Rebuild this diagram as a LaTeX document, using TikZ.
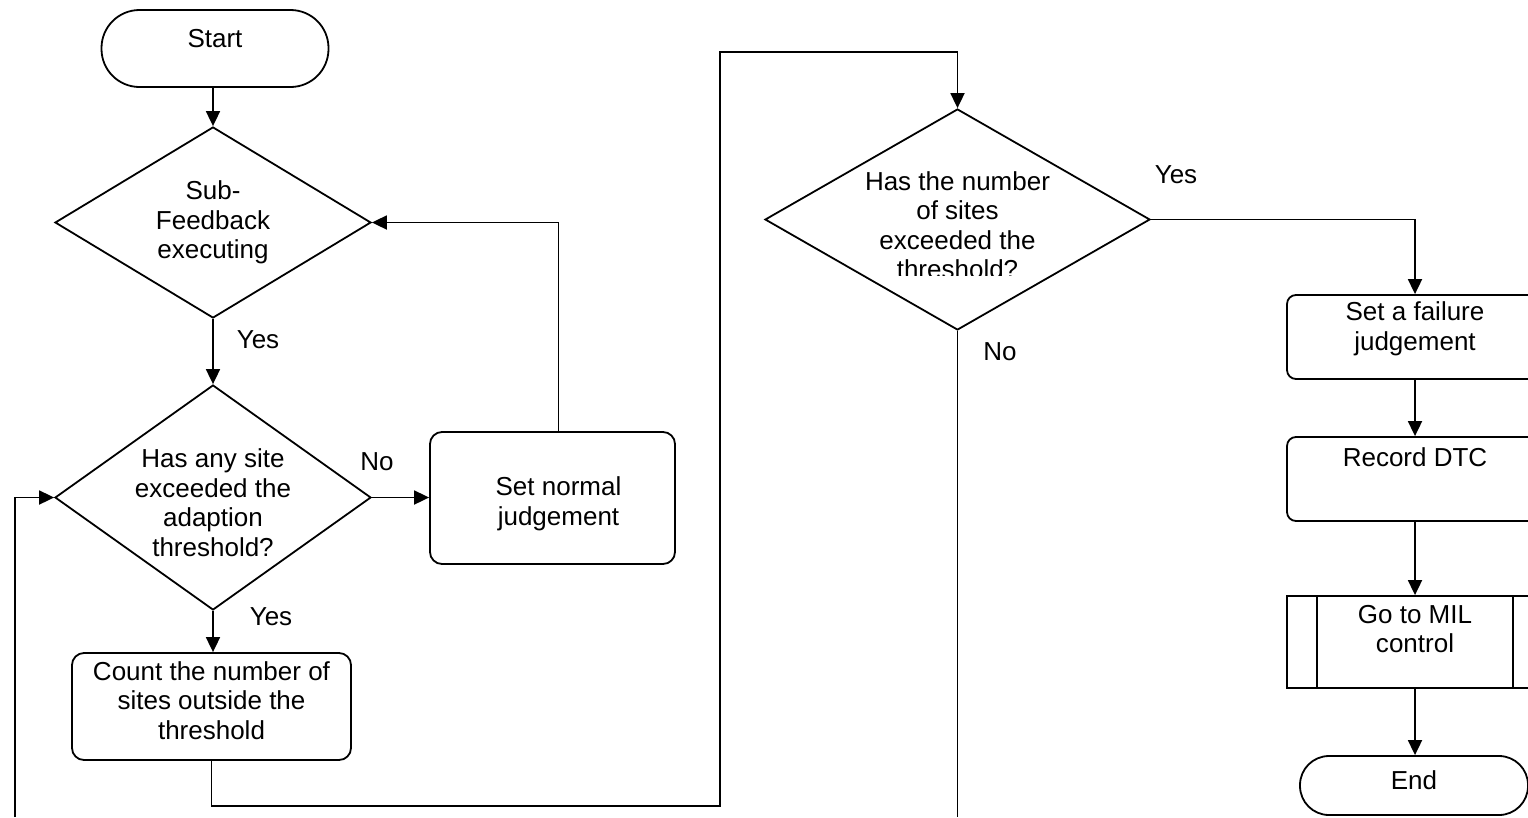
\documentclass[tikz,border=0pt]{standalone}
\usepackage{fontspec}
\setmainfont{Liberation Sans}
\usetikzlibrary{shapes.geometric,arrows.meta}

\tikzset{
  flow/.style={line width=1.8pt},
  arr/.style={flow, -{Triangle[length=15pt,width=14pt]}},
  txt/.style={align=center, font=\fontsize{26}{29.5}\selectfont, inner sep=0pt},
  terminal/.style={draw, flow, rectangle, rounded corners=#1, inner sep=0pt},
  procbox/.style={draw, flow, rectangle, rounded corners=12pt, inner sep=0pt},
  subproc/.style={draw, flow, rectangle, inner sep=0pt},
  decision/.style={draw, flow, diamond, inner sep=0pt},
}

\begin{document}
\begin{tikzpicture}[x=1pt,y=-1pt]
\useasboundingbox (0,0) rectangle (1528,817);

\node[terminal=38pt, minimum width=227pt, minimum height=77pt, label={[txt,yshift=10pt]center:Start}] (start) at (215,48.5) {};
\node[decision, minimum width=316pt, minimum height=191pt, label={[txt]center:{Sub-\\Feedback\\executing}}] (sub) at (213,222.5) {};
\node[decision, minimum width=316pt, minimum height=225pt, label={[txt,yshift=-5pt]center:{Has any site\\exceeded the\\adaption\\threshold?}}] (adapt) at (213,497.5) {};
\node[procbox, minimum width=245pt, minimum height=132pt, label={[txt,xshift=6pt,yshift=-6pt]center:{Set normal\\judgement}}] (normal) at (552.5,498) {};
\node[procbox, minimum width=279pt, minimum height=107pt, label={[txt,yshift=6pt]center:{Count the number of\\sites outside the\\threshold}}] (count) at (211.5,706.5) {};
\node[decision, minimum width=385pt, minimum height=221pt] (num) at (957.5,219.5) {};
\begin{scope}
\clip (765,100) rectangle (1150,275);
\node[txt] (numtext) at (957.5,225) {Has the number\\of sites\\exceeded the\\threshold?};
\end{scope}
\node[procbox, rounded corners=9pt, minimum width=256pt, minimum height=84pt, label={[txt,yshift=8pt]center:{Set a failure\\judgement}}] (fail) at (1415,337) {};
\node[procbox, rounded corners=9pt, minimum width=256pt, minimum height=84pt, label={[txt,yshift=22pt]center:Record DTC}] (record) at (1415,479) {};
\node[subproc, minimum width=256pt, minimum height=92pt, label={[txt,yshift=13pt]center:{Go to MIL\\control}}] (go) at (1415,642) {};
\node[terminal=29pt, minimum width=228pt, minimum height=59pt, label={[txt,yshift=5pt]center:End}] (end) at (1414,785.5) {};

\draw[flow] ([xshift=31pt]go.north west) -- ([xshift=31pt]go.south west);
\draw[flow] ([xshift=-31pt]go.north east) -- ([xshift=-31pt]go.south east);

\node[txt] (yes1) at (258,340) {Yes};
\node[txt] (no1) at (377,462) {No};
\node[txt] (yes2) at (271,617) {Yes};
\node[txt] (yes3) at (1176,175) {Yes};
\node[txt] (no2) at (1000,352) {No};

\coordinate (c1) at (720,806);
\coordinate (c2) at (720,52);
\coordinate (loopin) at (15,817);
\coordinate (numout) at (957.5,817);

\draw[arr] (sub.north |- start.south) -- (sub.north);
\draw[arr] (sub.south) -- (adapt.north);
\draw[arr] (adapt.east) -- (normal.west |- adapt.east);
\draw[arr] ([xshift=6pt]normal.north) |- (sub.east);
\draw[arr] (adapt.south) -- (adapt.south |- count.north);
\draw[arr] (count.south) |- (c1) -- (c2) -| (num.north);
\draw[arr] (num.east) -| (fail.north);
\draw[flow] (num.south) -- (numout);
\draw[arr] (loopin) |- (adapt.west);
\draw[arr] (fail.south) -- (record.north);
\draw[arr] (record.south) -- (go.north);
\draw[arr] (go.south) -- (go.south |- end.north);
\end{tikzpicture}
\end{document}
